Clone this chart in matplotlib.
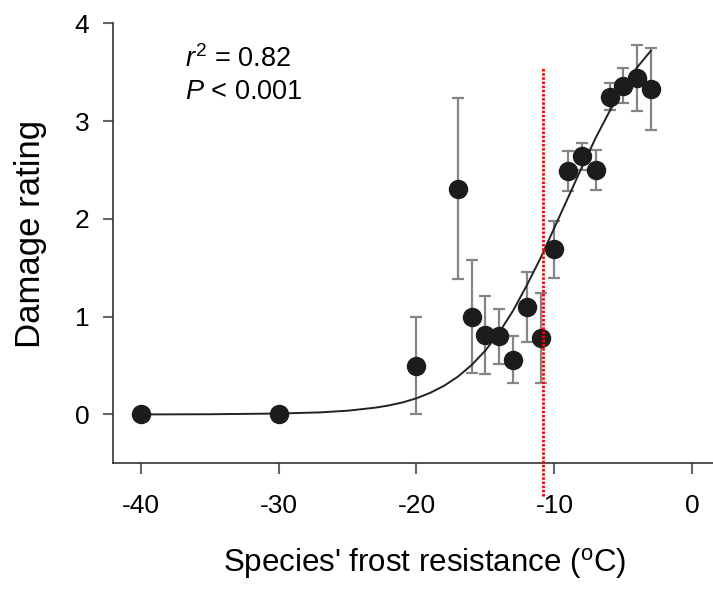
import matplotlib
matplotlib.use('Agg')
import matplotlib.pyplot as plt

plt.rcParams['font.family'] = ['Liberation Sans', 'DejaVu Sans']
plt.rcParams['mathtext.fontset'] = 'custom'
plt.rcParams['mathtext.rm'] = 'Liberation Sans'
plt.rcParams['mathtext.it'] = 'Liberation Sans:italic'
plt.rcParams['axes.unicode_minus'] = False

# species frost resistance (deg C) and mean damage rating
frost = [-40, -30, -20, -17, -16, -15, -14, -13, -12, -11, -10,
         -9, -8, -7, -6, -5, -4, -3]
damage = [0.0, 0.0, 0.50, 2.31, 1.00, 0.81, 0.80, 0.56, 1.10, 0.78, 1.69,
          2.49, 2.64, 2.50, 3.25, 3.36, 3.44, 3.33]
err = [0.0, 0.0, 0.50, 0.93, 0.58, 0.40, 0.28, 0.24, 0.36, 0.46, 0.29,
       0.20, 0.14, 0.20, 0.14, 0.18, 0.34, 0.42]

# fitted sigmoid
fit_x = [-40, -35, -30, -27, -25, -23, -22, -21, -20, -19, -18, -17, -16,
         -15, -14, -13, -12, -11, -10, -9, -8, -7, -6, -5, -4, -3]
fit_y = [0.0, 0.002, 0.009, 0.021, 0.038, 0.069, 0.092, 0.123, 0.165, 0.221,
         0.293, 0.386, 0.505, 0.654, 0.838, 1.06, 1.32, 1.60, 1.91, 2.22,
         2.53, 2.83, 3.10, 3.34, 3.55, 3.72]

threshold = -10.8

fig = plt.figure(figsize=(7.13, 5.9), dpi=100)
ax = fig.add_axes([0.1585, 0.2147, 0.8415, 0.7458])

ax.plot(fit_x, fit_y, color='#222222', lw=1.4, zorder=2)
ax.errorbar(frost, damage, yerr=err, fmt='none', ecolor='#858585',
            elinewidth=1.6, capsize=4.5, capthick=1.6, zorder=1)
ax.plot(frost, damage, 'o', color='#1c1c1c', ms=13, zorder=3)

ax.plot([threshold, threshold], [-0.83, 3.55], color='red', lw=2,
        linestyle=(0, (0.9, 0.6)), clip_on=False, zorder=4)

ax.text(-36.8, 3.63, r'$r^2$ = 0.82', fontsize=19.5, va='center')
ax.text(-36.8, 3.30, r'$P$ < 0.001', fontsize=19.5, va='center')

ax.set_xlim(-42, 1.5)
ax.set_ylim(-0.5, 4)
ax.set_xticks([-40, -30, -20, -10, 0])
ax.set_yticks([0, 1, 2, 3, 4])

ax.spines['top'].set_visible(False)
ax.spines['right'].set_visible(False)
for s in ['left', 'bottom']:
    ax.spines[s].set_color('#333333')
    ax.spines[s].set_linewidth(1.2)
ax.tick_params(axis='x', length=8, width=1.5, color='#666666', labelsize=19,
               pad=14)
ax.tick_params(axis='y', length=7, width=1.5, color='#666666', labelsize=19,
               pad=10)

ax.set_xlabel(r"Species' frost resistance ($^{\rm o}$C)", fontsize=22.5,
              labelpad=20)
ax.xaxis.label.set_x(0.52)
ax.set_ylabel('Damage rating', fontsize=25)
ax.yaxis.set_label_coords(-0.11, 0.521)

plt.savefig('out.png', dpi=100)
